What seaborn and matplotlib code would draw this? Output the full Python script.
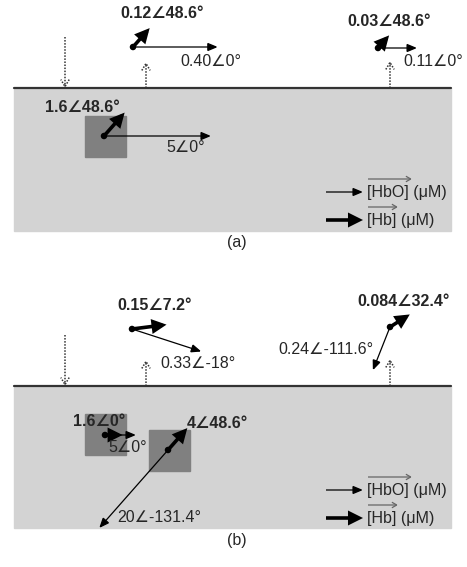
import numpy as np
import pandas as pd
import matplotlib
matplotlib.use("Agg")
import matplotlib.pyplot as plt
import seaborn as sns

# Phasor values (magnitude, angle in degrees) per measurement group
groups = ["a_det1", "a_det2", "a_inc", "b_det1", "b_det2", "b_inc1", "b_inc2"]
hbo_mag = [0.40, 0.11, 5, 0.33, 0.24, 5, 20]
hbo_ang = [0, 0, 0, -18, -111.6, 0, -131.4]
hb_mag = [0.12, 0.03, 1.6, 0.15, 0.084, 1.6, 4]
hb_ang = [48.6, 48.6, 48.6, 7.2, 32.4, 0, 48.6]
hbo_labels = ["0.40∠0°", "0.11∠0°", "5∠0°", "0.33∠-18°", "0.24∠-111.6°", "5∠0°", "20∠-131.4°"]
hb_labels = ["0.12∠48.6°", "0.03∠48.6°", "1.6∠48.6°", "0.15∠7.2°", "0.084∠32.4°", "1.6∠0°", "4∠48.6°"]
panel_labels = ["(a)", "(b)"]
legend_labels = ["[HbO] (μM)", "[Hb] (μM)"]

# layout (pixel coordinates): origin, px per unit for HbO / Hb, label anchors
origins = [(133, 47), (378, 48), (104, 136), (132, 329), (390, 327), (105, 435), (168, 450)]
hbo_scale = [212, 355, 21.4, 221, 194, 6.2, 5.2]
hb_scale = [210, 560, 19.5, 232, 279, 11, 7.3]
hbo_text_pos = [(180, 61), (403, 62), (166, 147), (160, 364), (278, 349), (108, 448), (117, 517)]
hb_text_pos = [(120, 14), (347, 21), (45, 107), (117, 305), (357, 302), (73, 422), (187, 424)]
panel_top = [88, 386]
panel_bottom = [231, 528]
squares = [(85, 116), (85, 414), (149, 430)]
FS = 11.5

sns.set_theme(style="white")
plt.rcParams["font.family"] = ["Liberation Sans", "DejaVu Sans"]

fig = plt.figure(figsize=(4.67, 5.67), dpi=100)
ax = fig.add_axes([0, 0, 1, 1])


def arrow(x0, y0, x1, y1, thick=False, color="black", style=None, ls="-", lw=None):
    if style is None:
        style = "-|>,head_length=0.6,head_width=0.3" if thick else "-|>,head_length=0.6,head_width=0.25"
    if lw is None:
        lw = 2.6 if thick else 0.9
    ax.annotate("", xy=(x1, y1), xytext=(x0, y0),
                arrowprops=dict(arrowstyle=style, color=color, lw=lw,
                                mutation_scale=11 if thick else 10, shrinkA=0, shrinkB=0,
                                linestyle=ls, capstyle="butt", joinstyle="miter"))


dotted = "->,head_length=0.5,head_width=0.3"

# tissue slabs
for top, bot, lab in zip(panel_top, panel_bottom, panel_labels):
    ax.add_patch(plt.Rectangle((14, top), 437, bot - top, color="#d3d3d3", zorder=0))
    ax.plot([14, 451], [top, top], color="#333333", lw=1.6, zorder=1)
    ax.text(237, top + 155, lab, ha="center", va="center", fontsize=FS)
    # source and detectors
    arrow(65, top - 51, 65, top, color="#333333", style=dotted, ls=(0, (1, 1)), lw=1.1)
    arrow(146, top, 146, top - 26, color="#333333", style=dotted, ls=(0, (1, 1)), lw=1.1)
    arrow(390, top, 390, top - 27, color="#333333", style=dotted, ls=(0, (1, 1)), lw=1.1)
    # legend
    ly = top + 104
    arrow(326, ly, 363, ly)
    ax.text(367, ly, legend_labels[0], ha="left", va="center", fontsize=FS)
    arrow(368, ly - 13, 412, ly - 13, color="#666666", style="->,head_length=0.35,head_width=0.2")
    arrow(326, ly + 28, 363, ly + 28, thick=True)
    ax.text(367, ly + 28, legend_labels[1], ha="left", va="center", fontsize=FS)
    arrow(368, ly + 15, 398, ly + 15, color="#666666", style="->,head_length=0.35,head_width=0.2")

# inclusions
for sx, sy in squares:
    ax.add_patch(plt.Rectangle((sx, sy), 41, 41, color="#808080", zorder=0.5))

# phasor arrows
for i in range(len(groups)):
    x0, y0 = origins[i]
    a = np.deg2rad(hbo_ang[i])
    L = hbo_mag[i] * hbo_scale[i]
    arrow(x0, y0, x0 + L * np.cos(a), y0 - L * np.sin(a))
    a = np.deg2rad(hb_ang[i])
    L = hb_mag[i] * hb_scale[i]
    arrow(x0, y0, x0 + L * np.cos(a), y0 - L * np.sin(a), thick=True)
    ax.text(*hbo_text_pos[i], hbo_labels[i], ha="left", va="center", fontsize=FS)
    ax.text(*hb_text_pos[i], hb_labels[i], ha="left", va="center", fontsize=FS, fontweight="bold")

dots = pd.DataFrame(origins, columns=["x", "y"])
sns.scatterplot(data=dots, x="x", y="y", ax=ax, color="black", s=22, edgecolor="none", zorder=5)
ax.set_xlim(0, 467)
ax.set_ylim(567, 0)
ax.axis("off")

fig.savefig("out.png", dpi=100)
